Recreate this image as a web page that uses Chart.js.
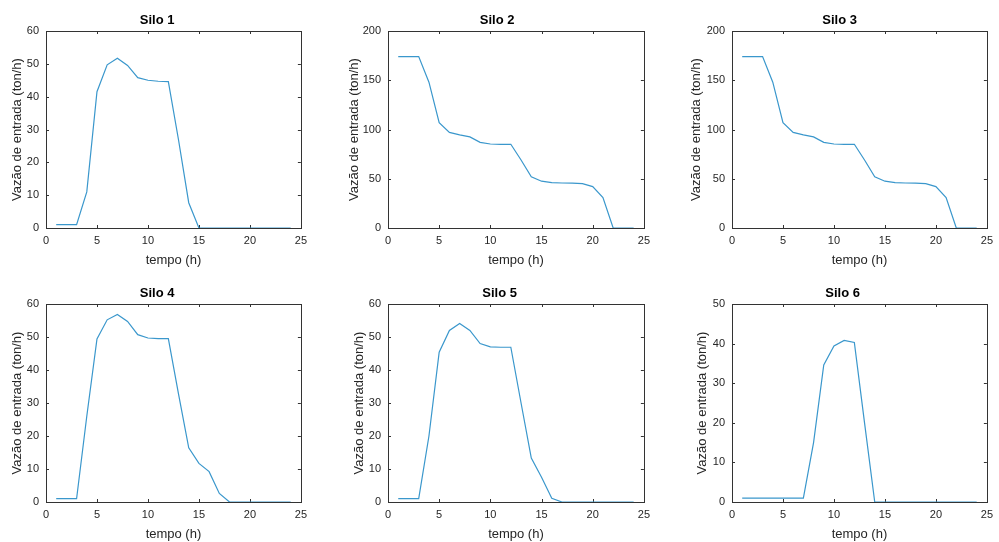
<!DOCTYPE html>
<html>
<head>
<meta charset="utf-8">
<title>Vazão de entrada por silo</title>
<script src="https://cdn.jsdelivr.net/npm/chart.js@4.4.0/dist/chart.umd.min.js"></script>
<style>
  html, body { margin: 0; padding: 0; background: #fff; overflow: hidden; }
  #wrap { position: relative; width: 999px; height: 542px; }
  canvas { position: absolute; }
</style>
</head>
<body>
<div id="wrap"></div>
<script>
// Data
const hours = [1, 2, 3, 4, 5, 6, 7, 8, 9, 10, 11, 12, 13, 14, 15, 16, 17, 18, 19, 20, 21, 22, 23, 24];
const silo1 = [1, 1, 1, 11, 41.5, 49.7, 51.7, 49.5, 45.8, 45, 44.7, 44.6, 26.8, 7.7, 0, 0, 0, 0, 0, 0, 0, 0, 0, 0];
const silo2 = [174, 174, 174, 148, 107, 97, 94.5, 92.5, 87, 85.3, 85, 85, 69, 52, 47.5, 46, 45.7, 45.5, 45, 42, 31, 0, 0, 0];
const silo3 = [174, 174, 174, 148, 107, 97, 94.5, 92.5, 87, 85.3, 85, 85, 69, 52, 47.5, 46, 45.7, 45.5, 45, 42, 31, 0, 0, 0];
const silo4 = [1, 1, 1, 26, 49.4, 55.2, 56.8, 54.7, 50.7, 49.7, 49.5, 49.5, 32.7, 16.4, 11.7, 9.2, 2.6, 0, 0, 0, 0, 0, 0, 0];
const silo5 = [1, 1, 1, 20, 45.4, 52, 54.1, 52, 48, 47, 46.9, 46.9, 30, 13.3, 7.5, 1.1, 0, 0, 0, 0, 0, 0, 0, 0];
const silo6 = [1, 1, 1, 1, 1, 1, 1, 15, 34.6, 39.4, 40.8, 40.3, 20, 0, 0, 0, 0, 0, 0, 0, 0, 0, 0, 0];

const titles = ['Silo 1', 'Silo 2', 'Silo 3', 'Silo 4', 'Silo 5', 'Silo 6'];
const series = [silo1, silo2, silo3, silo4, silo5, silo6];
const yMax = [60, 200, 200, 60, 60, 50];
const yStep = [10, 50, 50, 10, 10, 10];
const xMax = 25;
const xStep = 5;
const xLabel = 'tempo (h)';
const yLabel = 'Vazão de entrada (ton/h)';

// Layout of each axes box in the page (px)
const boxes = [
  { left: 46,  top: 31,  w: 259, h: 197, gap: 29 },
  { left: 388, top: 31,  w: 260, h: 197, gap: 34 },
  { left: 732, top: 31,  w: 259, h: 197, gap: 36 },
  { left: 46,  top: 304, w: 259, h: 198, gap: 29 },
  { left: 388, top: 304, w: 260, h: 198, gap: 29 },
  { left: 732, top: 304, w: 259, h: 198, gap: 30 }
];
const M_LEFT = 46, M_TOP = 31, M_RIGHT = 8, M_BOTTOM = 42;

const FONT = "'Liberation Sans', Arial, Helvetica, sans-serif";
const LABEL_SIZE = 13;
const AXIS_COLOR = '#262626';
const LINE_COLOR = '#3a97cc';

// MATLAB-like box with inward ticks
const boxPlugin = {
  id: 'matlabBox',
  beforeDatasetsDraw(chart) {
    const { ctx, chartArea: a, scales: { x, y } } = chart;
    ctx.save();
    ctx.strokeStyle = '#333';
    ctx.lineWidth = 1;
    ctx.strokeRect(Math.round(a.left) + 0.5, Math.round(a.top) + 0.5,
      Math.round(a.right - a.left), Math.round(a.bottom - a.top));
    ctx.beginPath();
    x.ticks.forEach(t => {
      const px = Math.round(x.getPixelForValue(t.value)) + 0.5;
      ctx.moveTo(px, a.bottom); ctx.lineTo(px, a.bottom - 3);
      ctx.moveTo(px, a.top); ctx.lineTo(px, a.top + 3);
    });
    y.ticks.forEach(t => {
      const py = Math.round(y.getPixelForValue(t.value)) + 0.5;
      ctx.moveTo(a.left, py); ctx.lineTo(a.left + 3, py);
      ctx.moveTo(a.right, py); ctx.lineTo(a.right - 3, py);
    });
    ctx.stroke();
    ctx.restore();
  }
};

function makePanel(i) {
  const b = boxes[i];
  const cw = M_LEFT + b.w + M_RIGHT;
  const ch = M_TOP + b.h + M_BOTTOM;
  const canvas = document.createElement('canvas');
  canvas.width = cw;
  canvas.height = ch;
  canvas.style.left = (b.left - M_LEFT) + 'px';
  canvas.style.top = (b.top - M_TOP) + 'px';
  canvas.style.width = cw + 'px';
  canvas.style.height = ch + 'px';
  document.getElementById('wrap').appendChild(canvas);

  const half = LABEL_SIZE * 1.2 / 2;
  const padLeft = M_LEFT - b.gap - half;
  const points = hours.map((h, k) => ({ x: h, y: series[i][k] }));

  new Chart(canvas, {
    type: 'line',
    data: {
      datasets: [{
        data: points,
        borderColor: LINE_COLOR,
        borderWidth: 1.2,
        pointRadius: 0,
        tension: 0,
        fill: false
      }]
    },
    options: {
      responsive: false,
      animation: false,
      events: [],
      layout: { padding: { left: padLeft, top: 0, right: M_RIGHT, bottom: 0 } },
      plugins: {
        legend: { display: false },
        tooltip: { enabled: false },
        title: {
          display: true,
          text: titles[i],
          color: '#000',
          font: { family: FONT, size: LABEL_SIZE, weight: 'bold' },
          padding: { top: 20 - half, bottom: M_TOP - 20 - half }
        }
      },
      scales: {
        x: {
          type: 'linear',
          min: 0,
          max: xMax,
          grid: { display: false, drawTicks: false },
          border: { display: false },
          ticks: {
            stepSize: xStep,
            color: AXIS_COLOR,
            font: { family: FONT, size: 11 },
            padding: 6,
            maxRotation: 0
          },
          title: {
            display: true,
            text: xLabel,
            color: AXIS_COLOR,
            font: { family: FONT, size: LABEL_SIZE },
            padding: { top: 0, bottom: 10 - half }
          },
          afterFit(scale) { scale.height = M_BOTTOM; }
        },
        y: {
          type: 'linear',
          min: 0,
          max: yMax[i],
          grid: { display: false, drawTicks: false },
          border: { display: false },
          ticks: {
            stepSize: yStep[i],
            color: AXIS_COLOR,
            font: { family: FONT, size: 11 },
            padding: 7
          },
          title: {
            display: true,
            text: yLabel,
            color: AXIS_COLOR,
            font: { family: FONT, size: LABEL_SIZE },
            padding: 0
          },
          afterFit(scale) { scale.width = M_LEFT - padLeft; }
        }
      }
    },
    plugins: [boxPlugin]
  });
}

for (let i = 0; i < titles.length; i++) {
  makePanel(i);
}
</script>
</body>
</html>
